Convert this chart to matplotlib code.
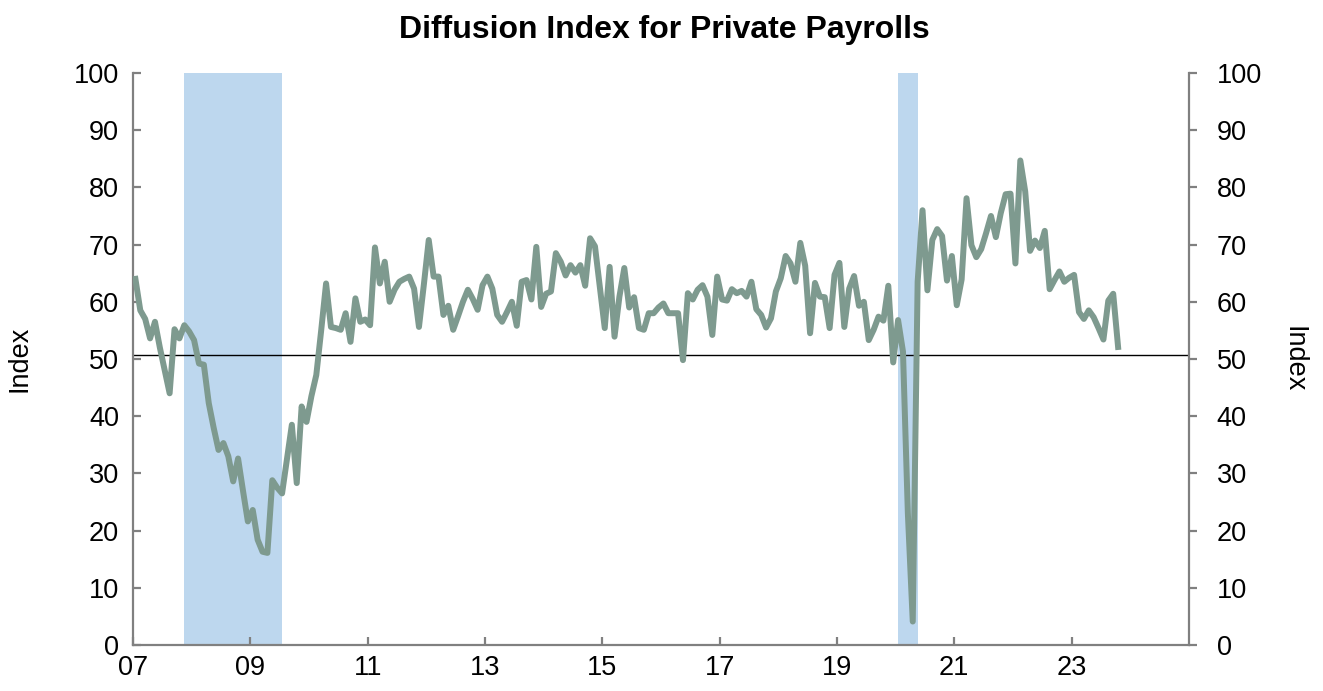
import matplotlib
matplotlib.use("Agg")
import matplotlib.pyplot as plt
import numpy as np

plt.rcParams['font.family'] = ['Liberation Sans', 'DejaVu Sans']

# monthly diffusion index, Jan 2007 .. Oct 2023
index_vals = [
    64.0, 58.5, 57.0, 53.6, 56.5, 52.0, 48.0, 44.0, 55.2, 53.6, 55.9, 54.8,   # 2007
    53.3, 49.2, 49.0, 42.3, 38.0, 34.1, 35.3, 33.0, 28.6, 32.6, 27.0, 21.6,   # 2008
    23.6, 18.4, 16.3, 16.1, 28.8, 27.5, 26.5, 32.5, 38.5, 28.3, 41.7, 39.0,   # 2009
    43.5, 47.2, 55.0, 63.2, 55.6, 55.4, 55.1, 58.0, 53.0, 60.6, 56.5, 56.9,   # 2010
    55.9, 69.5, 63.2, 67.0, 60.0, 62.1, 63.5, 64.0, 64.4, 62.3, 55.6, 63.0,   # 2011
    70.8, 64.4, 64.4, 57.7, 59.3, 55.1, 57.5, 60.0, 62.1, 60.5, 58.6, 62.9,   # 2012
    64.4, 62.3, 57.7, 56.5, 58.2, 60.0, 55.8, 63.5, 63.8, 60.4, 69.6, 59.1,   # 2013
    61.4, 61.8, 68.5, 67.0, 64.6, 66.4, 65.1, 66.4, 62.8, 71.1, 69.7, 62.5,   # 2014
    55.4, 66.1, 53.9, 60.9, 65.9, 59.0, 60.8, 55.4, 55.1, 58.0, 58.0, 59.0,   # 2015
    59.7, 58.0, 58.0, 58.0, 49.8, 61.5, 60.4, 62.1, 62.9, 60.9, 54.2, 64.4,   # 2016
    60.4, 60.2, 62.2, 61.5, 61.9, 60.9, 63.5, 58.7, 57.7, 55.5, 57.1, 61.8,   # 2017
    64.1, 68.0, 66.7, 63.5, 70.3, 66.3, 54.5, 63.3, 60.9, 60.8, 55.4, 64.7,   # 2018
    66.8, 55.6, 62.3, 64.5, 59.3, 60.0, 53.3, 55.1, 57.4, 56.7, 62.8, 49.4,   # 2019
    56.8, 51.3, 23.0, 4.1, 63.5, 76.0, 62.0, 70.8, 72.7, 71.5, 63.7, 68.0,    # 2020
    59.4, 63.9, 78.1, 69.9, 67.8, 69.2, 72.0, 75.0, 71.3, 75.5, 78.8, 78.9,   # 2021
    66.7, 84.7, 79.3, 68.9, 70.7, 69.4, 72.4, 62.2, 63.8, 65.3, 63.5, 64.2,   # 2022
    64.7, 58.2, 57.0, 58.5, 57.3, 55.4, 53.4, 60.2, 61.4, 52.1,               # 2023
]
start_year = 2007
recessions = [(2007.87, 2009.54), (2020.04, 2020.38)]
ref_level = 50.7
xtick_years = list(range(2007, 2024, 2))
xtick_labels = ["%02d" % (y % 100) for y in xtick_years]
yticks = list(range(0, 101, 10))

dates = start_year + (np.arange(len(index_vals)) + 0.5) / 12.0

fig = plt.figure(figsize=(13.23, 6.91), dpi=100)
ax = fig.add_axes([0.1005, 0.0666, 0.7982, 0.8278])

for a, b in recessions:
    ax.axvspan(a, b, color="#BDD7EE", lw=0, zorder=0)

ax.axhline(ref_level, color="black", lw=1.0, zorder=2)
ax.plot(dates, index_vals, color="#7E9A8F", lw=4.3, solid_joinstyle="round", zorder=3)

ax.set_xlim(2007, 2025)
ax.set_ylim(0, 100)
ax.set_xticks(xtick_years)
ax.set_xticklabels(xtick_labels)
ax.set_yticks(yticks)

fs = 19.5
gray = "#808080"
for s in ["left", "bottom"]:
    ax.spines[s].set_color(gray)
    ax.spines[s].set_linewidth(1.6)
ax.spines["top"].set_visible(False)
ax.spines["right"].set_visible(False)
ax.tick_params(axis="y", direction="in", length=6, width=1.6, color=gray, labelsize=fs, pad=10)
ax.tick_params(axis="x", direction="in", length=6, width=1.6, color=gray, labelsize=fs, pad=7)
ax.set_ylabel("Index", fontsize=fs, labelpad=30)

ax2 = ax.twinx()
ax2.set_ylim(0, 100)
ax2.set_yticks(yticks)
for s in ["left", "bottom", "top"]:
    ax2.spines[s].set_visible(False)
ax2.spines["right"].set_color(gray)
ax2.spines["right"].set_linewidth(1.6)
ax2.tick_params(axis="y", direction="out", length=6, width=1.6, color=gray, labelsize=fs, pad=14)
ax2.set_ylabel("Index", fontsize=fs, rotation=270, labelpad=32)

fig.suptitle("Diffusion Index for Private Payrolls", fontsize=23, fontweight="bold", x=0.502, y=0.978)

fig.savefig("out.png", dpi=100)
